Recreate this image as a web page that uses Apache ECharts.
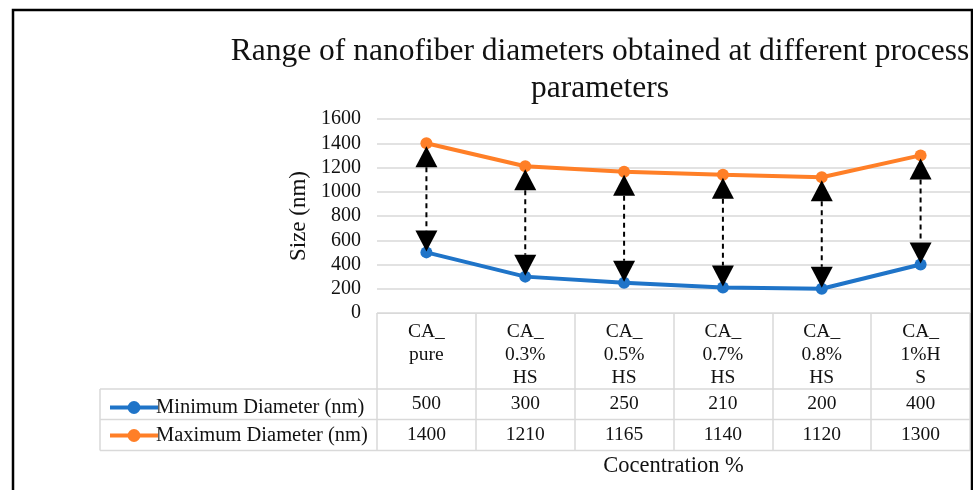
<!DOCTYPE html>
<html>
<head>
<meta charset="utf-8">
<script src="https://cdn.jsdelivr.net/npm/echarts@6/dist/echarts.min.js"></script>
<style>html,body{margin:0;padding:0;background:#fff}#c{width:973px;height:490px}</style>
</head>
<body>
<div id="c"></div>
<script>
const categories = ['CA_\npure', 'CA_\n0.3%\nHS', 'CA_\n0.5%\nHS', 'CA_\n0.7%\nHS', 'CA_\n0.8%\nHS', 'CA_\n1%H\nS'];
const minDiameter = [500, 300, 250, 210, 200, 400];
const maxDiameter = [1400, 1210, 1165, 1140, 1120, 1300];
const yTicks = {min: 0, max: 1600, interval: 200};
const seriesNames = ['Minimum Diameter (nm)', 'Maximum Diameter (nm)'];
const titleText = 'Range of nanofiber diameters obtained at different process\nparameters';
const yName = 'Size (nm)';
const xName = 'Cocentration %';

const FONT = '"Liberation Serif", "Times New Roman", serif';
const BLUE = '#1f74c8';
const ORANGE = '#ff7f27';
const GRID = '#d9d9d9';
const TXT = '#111';

const chart = echarts.init(document.getElementById('c'), null, {renderer: 'canvas'});

const gridLeft = 377, gridRight = 3, gridTop = 119, gridBottom = 177;
const axisY = 490 - gridBottom; // 313
const row1 = axisY + 76, row2 = row1 + 30.5, row3 = row2 + 31;
const tableLeft = 100, tableRight = 973 - gridRight;

const arrowData = categories.map((c, i) => [i, minDiameter[i], maxDiameter[i]]);

const option = {
  animation: false,
  backgroundColor: '#fff',
  title: {
    text: titleText,
    left: 595, top: 28, textAlign: 'center',
    textStyle: {fontFamily: FONT, fontSize: 31.5, fontWeight: 'normal', color: TXT, lineHeight: 37}
  },
  legend: {
    orient: 'vertical', left: 103, top: row1 + 3,
    itemWidth: 48, itemHeight: 16, itemGap: 7,
    data: seriesNames,
    lineStyle: {width: 4},
    textStyle: {fontFamily: FONT, fontSize: 20.5, color: TXT, padding: [0,0,0,-7]}
  },
  grid: {left: gridLeft, right: gridRight, top: gridTop, bottom: gridBottom, containLabel: false},
  xAxis: [
    {
      type: 'category', data: categories, position: 'bottom', boundaryGap: true,
      axisLine: {show: true, lineStyle: {color: GRID, width: 1}},
      axisTick: {show: true, interval: 0, length: row3 - axisY, lineStyle: {color: GRID, width: 1.5}},
      axisLabel: {interval: 0, margin: 7, fontFamily: FONT, fontSize: 19.5, color: TXT, lineHeight: 23, verticalAlign: 'top'},
      name: xName, nameLocation: 'middle', nameGap: 142,
      nameTextStyle: {fontFamily: FONT, fontSize: 22.5, color: TXT}
    },
    {
      type: 'category', data: minDiameter.map(String), position: 'bottom', offset: row1 - axisY,
      axisLine: {show: false}, axisTick: {show: false},
      axisLabel: {interval: 0, margin: 15, verticalAlign: 'middle', fontFamily: FONT, fontSize: 19.5, color: TXT}
    },
    {
      type: 'category', data: maxDiameter.map(String), position: 'bottom', offset: row2 - axisY,
      axisLine: {show: false}, axisTick: {show: false},
      axisLabel: {interval: 0, margin: 15.5, verticalAlign: 'middle', fontFamily: FONT, fontSize: 19.5, color: TXT}
    }
  ],
  yAxis: {
    type: 'value', min: yTicks.min, max: yTicks.max, interval: yTicks.interval,
    axisLine: {show: false}, axisTick: {show: false},
    splitLine: {lineStyle: {color: GRID, width: 1.5}},
    axisLabel: {margin: 16, fontFamily: FONT, fontSize: 20, color: TXT, formatter: v => String(v)},
    name: yName, nameLocation: 'middle', nameGap: 63,
    nameTextStyle: {fontFamily: FONT, fontSize: 23, color: TXT}
  },
  series: [
    {
      name: seriesNames[0], type: 'line', data: minDiameter,
      symbol: 'circle', symbolSize: 12,
      lineStyle: {color: BLUE, width: 4}, itemStyle: {color: BLUE}, z: 3
    },
    {
      name: seriesNames[1], type: 'line', data: maxDiameter,
      symbol: 'circle', symbolSize: 12,
      lineStyle: {color: ORANGE, width: 4}, itemStyle: {color: ORANGE}, z: 3
    },
    {
      type: 'custom', data: arrowData, z: 5, silent: true,
      encode: {x: 0, y: [1, 2]},
      renderItem: function (params, api) {
        const i = api.value(0);
        const lo = api.coord([i, api.value(1)]);
        const hi = api.coord([i, api.value(2)]);
        const hw = 11, th = 21;
        const upTip = hi[1] + 3, upBase = upTip + th;
        const dnTip = lo[1] - 1, dnBase = dnTip - th;
        return {
          type: 'group',
          children: [
            {type: 'line', shape: {x1: hi[0], y1: upBase, x2: lo[0], y2: dnBase},
             style: {stroke: '#000', lineWidth: 2, lineDash: [5, 4]}},
            {type: 'polygon', shape: {points: [[hi[0], upTip], [hi[0] - hw, upBase], [hi[0] + hw, upBase]]},
             style: {fill: '#000'}},
            {type: 'polygon', shape: {points: [[lo[0], dnTip], [lo[0] - hw, dnBase], [lo[0] + hw, dnBase]]},
             style: {fill: '#000'}}
          ]
        };
      }
    }
  ],
  graphic: [
    {type: 'line', shape: {x1: tableLeft, y1: row1, x2: tableRight, y2: row1}, style: {stroke: GRID, lineWidth: 1.5}, z: 1},
    {type: 'line', shape: {x1: tableLeft, y1: row2, x2: tableRight, y2: row2}, style: {stroke: GRID, lineWidth: 1.5}, z: 1},
    {type: 'line', shape: {x1: tableLeft, y1: row3, x2: tableRight, y2: row3}, style: {stroke: GRID, lineWidth: 1.5}, z: 1},
    {type: 'line', shape: {x1: tableLeft, y1: row1, x2: tableLeft, y2: row3}, style: {stroke: GRID, lineWidth: 1.5}, z: 1},
    {type: 'rect', shape: {x: 13, y: 10, width: 959, height: 500}, style: {fill: 'none', stroke: '#000', lineWidth: 2.5}, z: 10}
  ]
};
chart.setOption(option);
</script>
</body>
</html>
